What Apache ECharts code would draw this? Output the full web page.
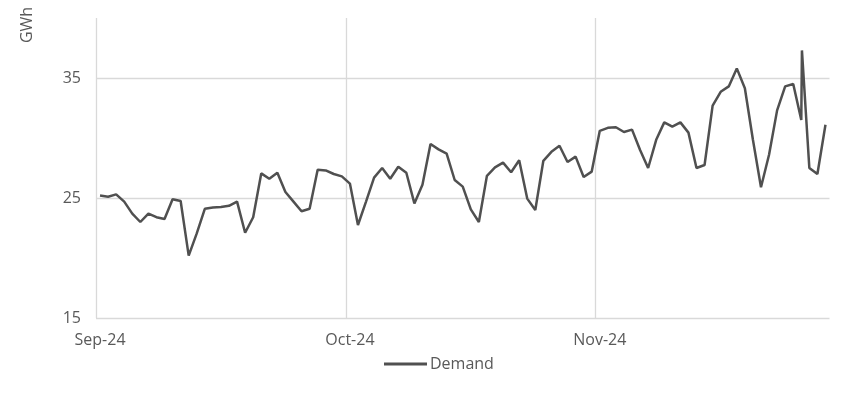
<!DOCTYPE html>
<html>
<head>
<meta charset="utf-8">
<script src="https://cdn.jsdelivr.net/npm/echarts@6/dist/echarts.min.js"></script>
<style>
  html, body { margin: 0; padding: 0; background: #ffffff; }
  #chart { width: 866px; height: 408px; }
</style>
</head>
<body>
<div id="chart"></div>
<script>
// Daily categories: 1 Sep 2024 onward (91 days)
var startDate = new Date(2024, 8, 1);
var categories = [];
for (var d = 0; d < 91; d++) {
  var dt = new Date(startDate.getTime());
  dt.setDate(startDate.getDate() + d);
  categories.push(dt.getFullYear() + '-' + String(dt.getMonth() + 1).padStart(2, '0') + '-' + String(dt.getDate()).padStart(2, '0'));
}

// Tick labels shown every 31 categories
var tickLabels = ['Sep-24', 'Oct-24', 'Nov-24'];

// Demand (GWh), one value per category
var demand = [
  25.2, 25.1, 25.3, 24.7, 23.7, 23.0, 23.7, 23.4, 23.25, 24.9,
  24.75, 20.2, 22.05, 24.1, 24.2, 24.25, 24.35, 24.7, 22.1, 23.4,
  27.05, 26.6, 27.1, 25.5, 24.7, 23.9, 24.1, 27.35, 27.3, 27.0,
  26.8, 26.2, 22.75, 24.7, 26.7, 27.5, 26.6, 27.6, 27.1, 24.55,
  26.1, 29.5, 29.05, 28.7, 26.5, 25.95, 24.05, 23.0, 26.85, 27.55,
  27.95, 27.15, 28.15, 24.95, 24.0, 28.1, 28.85, 29.35, 28.0, 28.45,
  26.75, 27.2, 30.6, 30.85, 30.9, 30.5, 30.7, 29.0, 27.5, 29.85,
  31.3, 30.95, 31.3, 30.45, 27.5, 27.75, 32.7, 33.85, 34.3, 35.8,
  34.15, 29.85, 25.9, 28.6, 32.3, 34.3, 34.5, 31.5, 27.5, 27.0,
  31.1
];

// Extra reading recorded just after category 87 (the narrow spike)
var extraIndex = [87.08];
var extraValue = [37.3];

var points = [];
for (var i = 0; i < demand.length; i++) {
  points.push([i, demand[i]]);
  for (var k = 0; k < extraIndex.length; k++) {
    if (Math.floor(extraIndex[k]) === i) points.push([extraIndex[k], extraValue[k]]);
  }
}

var textColor = '#595959';
var gridColor = '#d9d9d9';
var lineColor = '#505050';
var font = 'Open Sans';

var chart = echarts.init(document.getElementById('chart'), null, { renderer: 'canvas' });
chart.setOption({
  animation: false,
  backgroundColor: '#ffffff',
  textStyle: { fontFamily: font },
  grid: { left: 96, right: 36.5, top: 18, bottom: 90 },
  legend: {
    data: ['Demand'],
    left: 384,
    top: 356,
    padding: 0,
    icon: 'rect',
    itemWidth: 43,
    itemHeight: 3,
    itemGap: 10,
    textStyle: { color: textColor, fontSize: 16, fontFamily: font, padding: [0, 0, 0, -2] }
  },
  graphic: [{
    type: 'text',
    x: 27,
    y: 25,
    rotation: Math.PI / 2,
    style: {
      text: 'GWh',
      fill: textColor,
      font: '16px "Open Sans"',
      textAlign: 'center',
      textVerticalAlign: 'middle'
    }
  }],
  xAxis: [{
    type: 'category',
    data: categories,
    boundaryGap: true,
    axisLine: { show: false },
    axisTick: { show: false },
    axisLabel: {
      interval: 30,
      color: textColor,
      fontSize: 16,
      fontFamily: font,
      margin: 14,
      formatter: function (value, index) {
        return tickLabels[Math.round(index / 31)] || '';
      }
    },
    splitLine: {
      show: true,
      interval: 30,
      showMaxLine: false,
      lineStyle: { color: [gridColor, gridColor, gridColor, 'rgba(0,0,0,0)'], width: 1.3 }
    }
  }, {
    type: 'value',
    min: -0.5,
    max: 90.5,
    show: false
  }],
  yAxis: {
    type: 'value',
    min: 15,
    max: 40,
    interval: 10,
    axisLine: { show: false },
    axisTick: { show: false },
    axisLabel: {
      color: textColor,
      fontSize: 16,
      fontFamily: font,
      margin: 15,
      showMaxLabel: false
    },
    splitLine: {
      show: true,
      showMaxLine: false,
      lineStyle: { color: [gridColor, gridColor, gridColor, 'rgba(0,0,0,0)'], width: 1.3 }
    }
  },
  series: [{
    name: 'Demand',
    type: 'line',
    xAxisIndex: 1,
    data: points,
    symbol: 'none',
    showSymbol: false,
    lineStyle: { color: lineColor, width: 2.5 },
    itemStyle: { color: lineColor }
  }]
});
</script>
</body>
</html>
